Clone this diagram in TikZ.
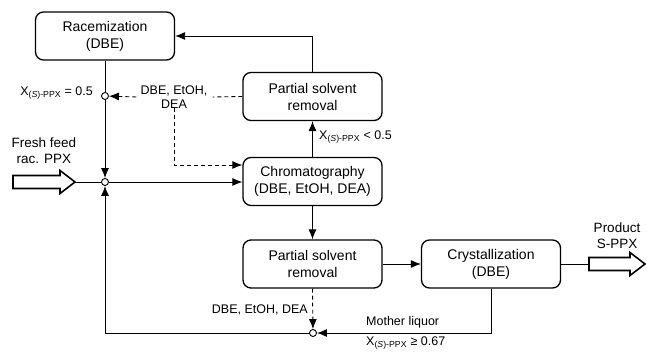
\documentclass[tikz,border=0pt]{standalone}
\usepackage{fontspec}
\setmainfont{Liberation Sans}
\usetikzlibrary{arrows.meta,calc}
\begin{document}
\begin{tikzpicture}[x=1pt,y=-1pt,
 box/.style={draw,line width=1.3pt,rounded corners=8pt,minimum width=139pt,minimum height=48pt,align=center,font=\fontsize{14}{17}\selectfont,inner sep=0pt},
 lbl/.style={font=\fontsize{12.5}{14}\selectfont,inner sep=1pt,align=center},
 conn/.style={line width=0.9pt,-{Latex[length=10pt,width=8pt]}},
 plain/.style={line width=0.9pt},
 dconn/.style={conn,dash pattern=on 4pt off 3pt},
 dplain/.style={plain,dash pattern=on 4pt off 3pt},
 junc/.style={circle,draw,line width=0.9pt,fill=white,inner sep=0pt,minimum size=7pt},
 hollow/.style={draw,line width=1.6pt,fill=white,line join=miter}]
\useasboundingbox (0,0) rectangle (647,352);
\newcommand{\xs}{X\textsubscript{(\textit{S})-PPX}}

% boxes
\node[box] (rac) at (105,36) {Racemization\\(DBE)};
\node[box] (psra) at (312.5,96.5) {Partial solvent\\removal};
\node[box] (chrom) at (312.5,181.5) {Chromatography\\(DBE, EtOH, DEA)};
\node[box] (psrb) at (312.5,264) {Partial solvent\\removal};
\node[box] (cryst) at (491,264) {Crystallization\\(DBE)};

% junctions
\node[junc] (ja) at (105,96) {};
\node[junc] (jb) at (105,182) {};
\node[junc] (jc) at (313,333) {};

% labels
\node[lbl,anchor=east] (xa) at (94,93) {\xs{} = 0.5};
\node[lbl,anchor=west] (xb) at (318,137) {\xs{} < 0.5};
\node[lbl] (dla) at (174,97) {DBE, EtOH,\\DEA};
\node[lbl,anchor=east] (dlb) at (309,310) {DBE, EtOH, DEA};
\node[lbl,anchor=west] (ml) at (365,322) {Mother liquor};
\node[lbl,anchor=west] (xc) at (365,343) {\xs{} ≥ 0.67};
\node[lbl,font=\fontsize{13.5}{16}\selectfont] (ff) at (44,151) {Fresh feed\\rac. PPX};
\node[lbl,font=\fontsize{13.5}{16}\selectfont] (pr) at (617,236) {Product\\S-PPX};

% hollow arrows
\draw[hollow] (13,175.5) -- (60,175.5) -- (60,170.5) -- (75,182) -- (60,193.5) -- (60,188.5) -- (13,188.5) -- cycle;
\coordinate (fftip) at (75,182);
\draw[hollow] (589,257.5) -- (630,257.5) -- (630,252.5) -- (645,264) -- (630,275.5) -- (630,270.5) -- (589,270.5) -- cycle;
\coordinate (prtail) at (589,264);

% connectors
\draw[conn] (psra.north) |- (rac.east);
\draw[plain] (rac.south) -- (ja);
\draw[conn] (ja) -- (jb);
\draw[plain] (fftip) -- (jb);
\draw[conn] (jb) -- (chrom.west |- jb);
\draw[conn] (chrom.north) -- (psra.south);
\draw[conn] (chrom.south) -- (psrb.north);
\draw[conn] (psrb.east) -- (cryst.west);
\draw[plain] (cryst.east) -- (prtail);
\draw[dplain] (psra.west) -- ($(dla.east)+(4,0)$);
\draw[dconn] ($(dla.west)+(-3,0)$) -- (ja);
\draw[dconn] ($(dla.south)+(0,-2)$) |- ($(chrom.west)+(0,-16.5)$);
\draw[dconn] (psrb.south) -- (jc);
\draw[conn] (cryst.south) |- (jc);
\draw[conn] (jc) -| (jb);
\end{tikzpicture}
\end{document}
